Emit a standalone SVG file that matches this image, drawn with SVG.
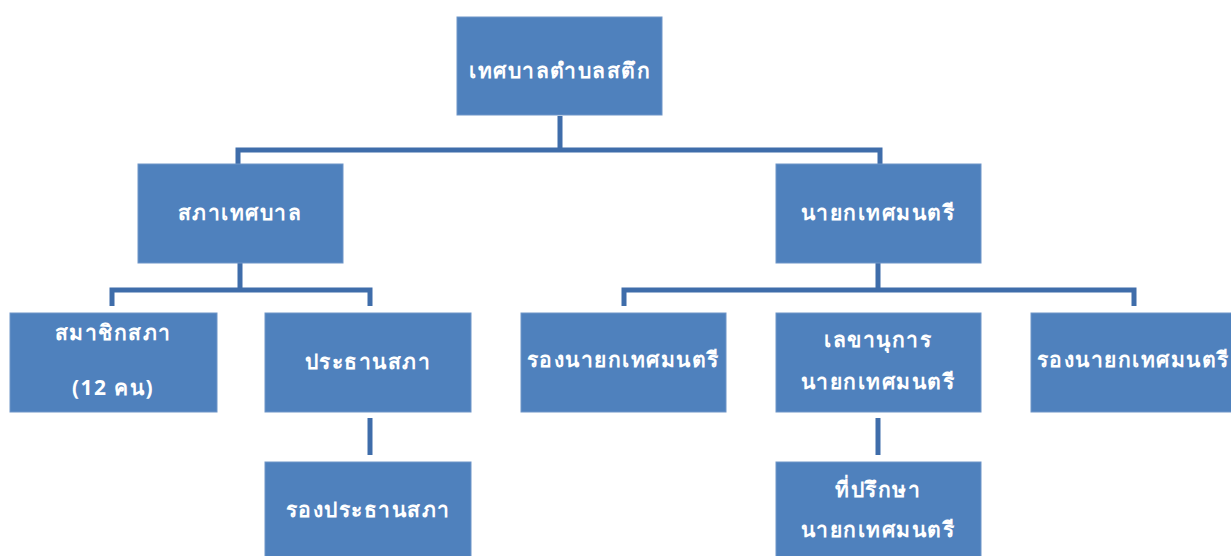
<svg xmlns="http://www.w3.org/2000/svg" width="1231" height="556" viewBox="0 0 1231 556">
<style>
.box{fill:#4F81BD;stroke:#6E95C8;stroke-width:1}
.t{font-family:"Noto Sans","DejaVu Sans","Liberation Sans",sans-serif;font-size:21px;font-weight:bold;fill:#FFFFFF;text-anchor:middle;letter-spacing:1.5px}
.c{fill:none;stroke:#3F6DAA;stroke-width:5}
</style>
<rect width="1231" height="556" fill="#FFFFFF"/>
<g id="connectors">
<path class="c" d="M560 116V150M238 165V150H880V165"/>
<path class="c" d="M240 263V290M112 306V290H370V306"/>
<path class="c" d="M878 263V290M624 306V290H1134V306"/>
<path class="c" d="M370 418V455"/>
<path class="c" d="M878 418V455"/>
</g>
<g id="n1"><rect class="box" x="457" y="17" width="205" height="98"/><text class="t" x="560" y="78">เทศบาลตำบลสตึก</text></g>
<g id="n2"><rect class="box" x="138" y="164" width="205" height="99"/><text class="t" x="240" y="220">สภาเทศบาล</text></g>
<g id="n3"><rect class="box" x="776" y="164" width="205" height="99"/><text class="t" x="878" y="220">นายกเทศมนตรี</text></g>
<g id="n4"><rect class="box" x="10" y="313" width="207" height="99"/><text class="t" x="113" y="340">สมาชิกสภา</text><text class="t" x="113" y="395">(12 คน)</text></g>
<g id="n5"><rect class="box" x="265" y="313" width="206" height="99"/><text class="t" x="368" y="369">ประธานสภา</text></g>
<g id="n6"><rect class="box" x="521" y="313" width="205" height="99"/><text class="t" x="623" y="367">รองนายกเทศมนตรี</text></g>
<g id="n7"><rect class="box" x="776" y="313" width="205" height="99"/><text class="t" x="878" y="347">เลขานุการ</text><text class="t" x="878" y="389">นายกเทศมนตรี</text></g>
<g id="n8"><rect class="box" x="1031" y="313" width="206" height="99"/><text class="t" x="1133" y="367">รองนายกเทศมนตรี</text></g>
<g id="n9"><rect class="box" x="265" y="462" width="206" height="100"/><text class="t" x="368" y="517">รองประธานสภา</text></g>
<g id="n10"><rect class="box" x="776" y="462" width="205" height="100"/><text class="t" x="878" y="497">ที่ปรึกษา</text><text class="t" x="878" y="537">นายกเทศมนตรี</text></g>
</svg>
